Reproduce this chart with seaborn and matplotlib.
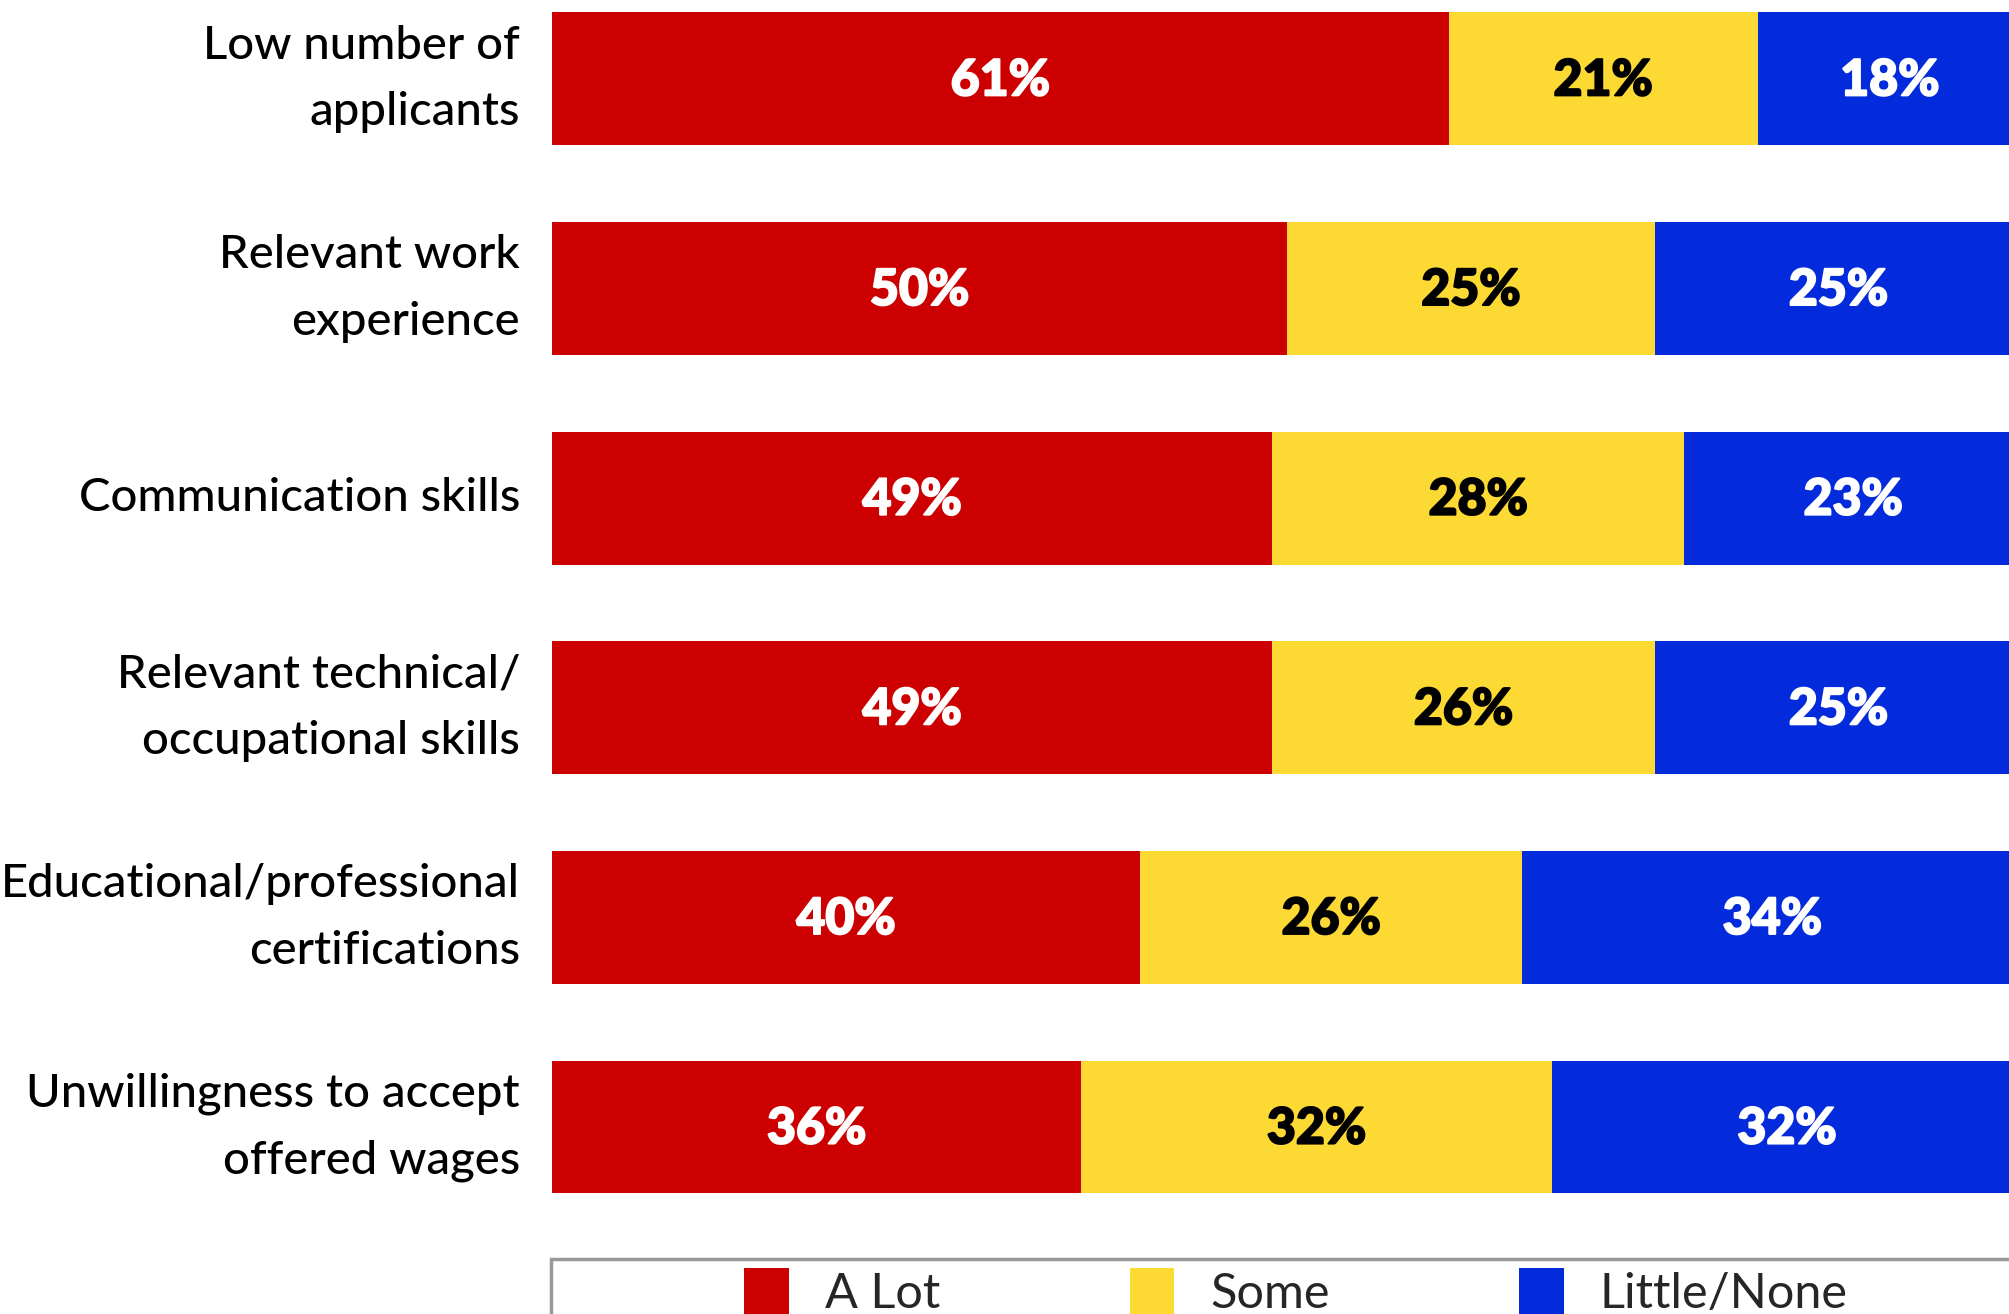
import matplotlib
matplotlib.use("Agg")
import matplotlib.pyplot as plt
import matplotlib.patheffects as pe
from matplotlib.patches import Rectangle, Patch
import numpy as np
import pandas as pd
import seaborn as sns

# Survey results: share of employers rating each factor
categories = [
    "Low number of\napplicants",
    "Relevant work\nexperience",
    "Communication skills",
    "Relevant technical/\noccupational skills",
    "Educational/professional\ncertifications",
    "Unwillingness to accept\noffered wages",
]
a_lot = [61, 50, 49, 49, 40, 36]
some = [21, 25, 28, 26, 26, 32]
little_none = [18, 25, 23, 25, 34, 32]
series_names = ["A Lot", "Some", "Little/None"]
colors = ["#CC0000", "#FDDA33", "#032BDC"]
text_colors = ["white", "black", "white"]

sns.set_theme(style="white")
plt.rcParams["font.family"] = ["Lato", "DejaVu Sans"]

df = pd.DataFrame({"cat": categories, "A Lot": a_lot, "Some": some,
                   "Little/None": little_none})
df["c1"] = df["A Lot"]
df["c2"] = df["c1"] + df["Some"]
df["c3"] = df["c2"] + df["Little/None"]

W, H, DPI = 2009, 1314, 100
fig = plt.figure(figsize=(W / DPI, H / DPI), dpi=DPI)
ax = fig.add_axes([552 / W, (H - 1240) / H, 1 - 552 / W, 1240 / H])

bar_w = 0.634
# stacked bars drawn back to front from cumulative totals
for col, color in zip(["c3", "c2", "c1"], colors[::-1]):
    sns.barplot(data=df, x=col, y="cat", orient="h", color=color,
                width=bar_w, saturation=1, ax=ax, linewidth=0)

starts = [np.zeros(len(df)), df["c1"].values, df["c2"].values]
for vals, start, tc in zip([a_lot, some, little_none], starts, text_colors):
    for i, (v, s) in enumerate(zip(vals, start)):
        ax.text(s + v / 2, i + 0.01, f"{v}%", ha="center", va="center",
                color=tc, fontsize=36, fontweight="black",
                path_effects=[pe.withStroke(linewidth=1.4, foreground=tc)])

ax.set_xlim(0, 99.1)
ax.set_ylim(5.539, -0.376)
ax.set_xlabel("")
ax.set_ylabel("")
ax.set_xticks([])
ax.set_yticks(range(len(categories)), labels=categories, linespacing=1.72,
              fontweight="medium", ha="right", va="center")
ax.tick_params(axis="y", length=0, pad=23, labelsize=34, labelcolor="black")
for sp in ax.spines.values():
    sp.set_visible(False)

# legend box along the bottom
fig.patches.append(Rectangle((551 / W, -0.05), 0.8, (H - 1259) / H + 0.05,
                             transform=fig.transFigure, facecolor="white",
                             edgecolor="#999999", linewidth=2.5))
handles = [Patch(facecolor=c, edgecolor="none") for c in colors]
fig.legend(handles, series_names, loc="upper left",
           bbox_to_anchor=(744 / W, 1 - 1268 / H), ncol=3, frameon=False,
           fontsize=35, handlelength=0.92, handleheight=1.1,
           handletextpad=0.74, columnspacing=3.9, borderpad=0,
           borderaxespad=0)

fig.savefig("out.png", dpi=DPI)
